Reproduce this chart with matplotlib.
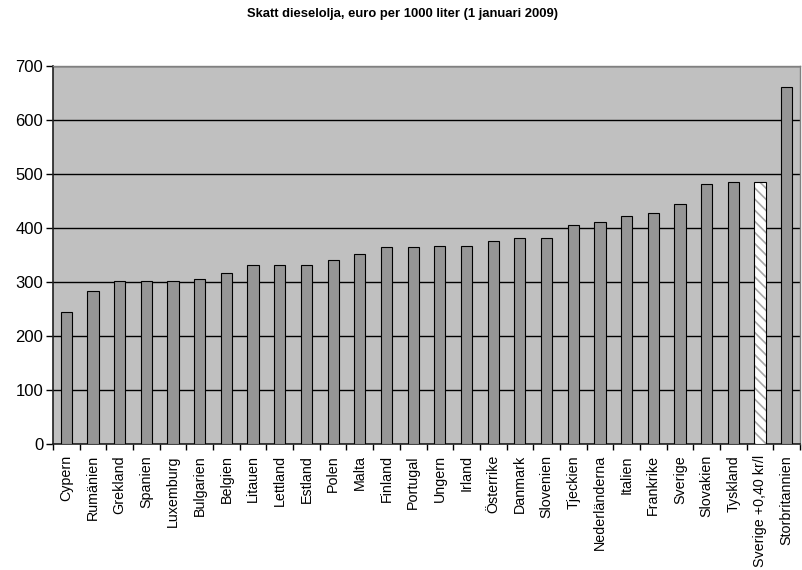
import numpy as np
import matplotlib
matplotlib.use('Agg')
import matplotlib.pyplot as plt

plt.rcParams['font.family'] = ['Liberation Sans', 'DejaVu Sans']
plt.rcParams['hatch.linewidth'] = 1.2

# Data
countries = ['Cypern', 'Rumänien', 'Grekland', 'Spanien', 'Luxemburg', 'Bulgarien',
             'Belgien', 'Litauen', 'Lettland', 'Estland', 'Polen', 'Malta', 'Finland',
             'Portugal', 'Ungern', 'Irland', 'Österrike', 'Danmark', 'Slovenien',
             'Tjeckien', 'Nederländerna', 'Italien', 'Frankrike', 'Sverige',
             'Slovakien', 'Tyskland', 'Sverige +0,40 kr/l', 'Storbritannien']
tax = [245, 284, 302, 302, 302, 306, 317, 331, 331, 331, 340, 352, 364,
       364, 366, 366, 376, 382, 382, 405, 411, 423, 428, 445,
       482, 486, 486, 661]
highlight = 'Sverige +0,40 kr/l'
yticks = [0, 100, 200, 300, 400, 500, 600, 700]

fig = plt.figure(figsize=(8.02, 5.70), dpi=100)
ax = fig.add_axes([53 / 802, 126 / 570, 747 / 802, 378 / 570])
ax.set_facecolor('#c0c0c0')

x = np.arange(len(countries))
for i, (name, val) in enumerate(zip(countries, tax)):
    if name == highlight:
        # hatch takes the edge colour, so draw the grey hatch first, then the black outline
        ax.bar(i, val, width=0.42, color='white', edgecolor='#a8a8a8',
               linewidth=0, hatch='\\\\\\', zorder=3)
        ax.bar(i, val, width=0.42, fill=False, edgecolor='black',
               linewidth=0.8, zorder=4)
    else:
        ax.bar(i, val, width=0.42, color='#969696', edgecolor='black',
               linewidth=0.8, zorder=3)

ax.set_xlim(-0.5, len(countries) - 0.5)
ax.set_ylim(0, 700)
ax.set_yticks(yticks)
ax.yaxis.grid(True, color='black', linewidth=1.0, zorder=1)
ax.set_axisbelow(True)

# labels in the middle, tick marks between the bars
ax.set_xticks(x)
ax.set_xticklabels(countries, rotation=90, fontsize=10.3)
ax.tick_params(axis='x', which='major', length=0, pad=8)
ax.set_xticks(np.arange(-0.5, len(countries)), minor=True)
ax.tick_params(axis='x', which='minor', length=4, width=1, direction='out')
ax.tick_params(axis='y', length=5, width=1, direction='out', labelsize=12, pad=2)

for side in ['top', 'right']:
    ax.spines[side].set_color('#808080')
    ax.spines[side].set_linewidth(1.0)
ax.spines['left'].set_color('#202020')
ax.spines['bottom'].set_color('#202020')
ax.spines['left'].set_linewidth(1.2)
ax.spines['bottom'].set_linewidth(1.2)

fig.text(403 / 802, 1 - 14 / 570, 'Skatt dieselolja, euro per 1000 liter (1 januari 2009)',
         ha='center', va='center', fontsize=9.4, fontweight='bold')

fig.savefig('out.png', dpi=100)
